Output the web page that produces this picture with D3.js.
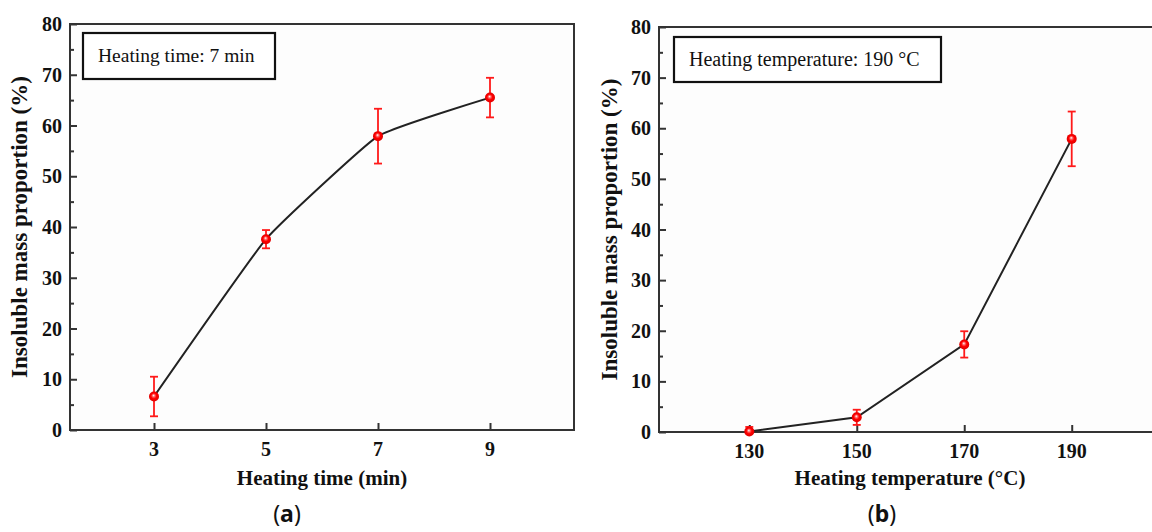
<!DOCTYPE html>
<html>
<head>
<meta charset="utf-8">
<script src="https://cdn.jsdelivr.net/npm/d3@7"></script>
<style>
  body { margin: 0; background: #fff; }
  svg { display: block; }
  text { font-family: "Liberation Serif", "Times New Roman", serif; fill: #111; }
</style>
</head>
<body>
<script>
// panel (a): heating time series
const heatingTime = [3, 5, 7, 9];
const timeMean = [6.6, 37.6, 57.9, 65.5];
const timeErr = [3.9, 1.8, 5.4, 3.9];

// panel (b): heating temperature series
const heatingTemp = [130, 150, 170, 190];
const tempMean = [0.1, 2.9, 17.3, 57.9];
const tempErr = [0.9, 1.5, 2.6, 5.4];

const yTicks = [0, 10, 20, 30, 40, 50, 60, 70, 80];
const yMinorTicks = [5, 15, 25, 35, 45, 55, 65, 75];

const width = 1152, height = 532;

const svg = d3.select("body").append("svg")
    .attr("width", width)
    .attr("height", height);

const defs = svg.append("defs");
const grad = defs.append("radialGradient")
    .attr("id", "ball")
    .attr("cx", "50%").attr("cy", "50%").attr("r", "50%")
    .attr("fx", "45%").attr("fy", "38%");
grad.append("stop").attr("offset", "0%").attr("stop-color", "#fff");
grad.append("stop").attr("offset", "28%").attr("stop-color", "#ff6060");
grad.append("stop").attr("offset", "55%").attr("stop-color", "#ff0000");
grad.append("stop").attr("offset", "100%").attr("stop-color", "#e00000");

function drawPanel(p) {
    const x = d3.scaleLinear().domain(p.xDomain).range(p.xRange);
    const y = d3.scaleLinear().domain([0, 80]).range(p.yRange);
    const g = svg.append("g");
    const [x0, x1] = p.xRange, [yb, yt] = p.yRange;

    // frame
    g.append("rect")
        .attr("x", x0).attr("y", yt)
        .attr("width", x1 - x0).attr("height", yb - yt)
        .attr("fill", "#fdfdfd")
        .attr("stroke", "#333")
        .attr("stroke-width", 2);

    // y axis, ticks inward
    const yAxis = d3.axisRight(y).tickValues(yTicks).tickSize(7).tickFormat("");
    g.append("g").attr("transform", "translate(" + x0 + ",0)").call(yAxis)
        .call(s => s.select(".domain").remove())
        .selectAll("line").attr("stroke", "#333").attr("stroke-width", 2);
    g.append("g").attr("transform", "translate(" + x0 + ",0)")
        .call(d3.axisRight(y).tickValues(yMinorTicks).tickSize(4).tickFormat(""))
        .call(s => s.select(".domain").remove())
        .selectAll("line").attr("stroke", "#333").attr("stroke-width", 2);
    g.selectAll(".ylab").data(yTicks).enter().append("text")
        .attr("x", x0 - 8)
        .attr("y", d => y(d) + 7)
        .attr("text-anchor", "end")
        .attr("font-weight", "bold")
        .attr("font-size", 20)
        .text(d => d);

    // x axis, ticks inward
    g.append("g").attr("transform", "translate(0," + yb + ")")
        .call(d3.axisTop(x).tickValues(p.xs).tickSize(7).tickFormat(""))
        .call(s => s.select(".domain").remove())
        .selectAll("line").attr("stroke", "#333").attr("stroke-width", 2);
    g.selectAll(".xlab").data(p.xs).enter().append("text")
        .attr("x", d => x(d))
        .attr("y", yb + 26)
        .attr("text-anchor", "middle")
        .attr("font-weight", "bold")
        .attr("font-size", 20)
        .text(d => d);

    // axis titles
    g.append("text")
        .attr("x", p.xTitleX).attr("y", 485)
        .attr("text-anchor", "middle")
        .attr("font-weight", "bold")
        .attr("font-size", 21)
        .text(p.xTitle);
    g.append("text")
        .attr("transform", "translate(" + p.yTitleX + "," + (yb + yt) / 2 + ") rotate(-90)")
        .attr("text-anchor", "middle")
        .attr("font-weight", "bold")
        .attr("font-size", 23)
        .text("Insoluble mass proportion (%)");

    // annotation box
    g.append("rect")
        .attr("x", p.box[0]).attr("y", p.box[1])
        .attr("width", p.box[2]).attr("height", p.box[3])
        .attr("fill", "#fff")
        .attr("stroke", "#111")
        .attr("stroke-width", 2.2);
    g.append("text")
        .attr("x", p.box[0] + 15).attr("y", p.box[1] + 29)
        .attr("font-size", p.noteSize)
        .text(p.note);

    // data
    const pts = p.xs.map((v, i) => ({x: v, y: p.mean[i], e: p.err[i]}));
    const line = d3.line().x(d => x(d.x)).y(d => y(d.y)).curve(p.curve);
    g.append("path")
        .attr("d", line(pts))
        .attr("fill", "none")
        .attr("stroke", "#222")
        .attr("stroke-width", 2);

    const eb = g.append("g").attr("stroke", "#ff1a1a").attr("stroke-width", 1.8);
    eb.selectAll(".v").data(pts).enter().append("line")
        .attr("x1", d => x(d.x)).attr("x2", d => x(d.x))
        .attr("y1", d => y(d.y + d.e)).attr("y2", d => y(Math.max(0, d.y - d.e)));
    eb.selectAll(".t").data(pts).enter().append("line")
        .attr("x1", d => x(d.x) - 4).attr("x2", d => x(d.x) + 4)
        .attr("y1", d => y(d.y + d.e)).attr("y2", d => y(d.y + d.e));
    eb.selectAll(".b").data(pts.filter(d => d.y - d.e > 0)).enter().append("line")
        .attr("x1", d => x(d.x) - 4).attr("x2", d => x(d.x) + 4)
        .attr("y1", d => y(d.y - d.e)).attr("y2", d => y(d.y - d.e));

    g.selectAll(".pt").data(pts).enter().append("circle")
        .attr("cx", d => x(d.x))
        .attr("cy", d => y(d.y))
        .attr("r", 5)
        .attr("fill", "url(#ball)");

    // caption
    const cap = svg.append("text")
        .attr("x", p.capX).attr("y", 522)
        .attr("text-anchor", "middle")
        .attr("font-size", 23)
        .style("font-family", "'Noto Sans', 'DejaVu Sans', sans-serif");
    cap.append("tspan").text("(");
    cap.append("tspan").attr("font-weight", "bold").text(p.cap);
    cap.append("tspan").text(")");
}

drawPanel({
    xs: heatingTime, mean: timeMean, err: timeErr,
    xDomain: [1.5, 10.5], xRange: [70, 574], yRange: [430, 24],
    xTitle: "Heating time (min)", xTitleX: 322, yTitleX: 27,
    box: [83, 33, 192, 46], note: "Heating time: 7 min", noteSize: 19.5,
    curve: d3.curveCardinal.tension(0.65), capX: 287, cap: "a"
});

drawPanel({
    xs: heatingTemp, mean: tempMean, err: tempErr,
    xDomain: [113.2, 206.8], xRange: [659, 1162], yRange: [432, 27],
    xTitle: "Heating temperature (\u00B0C)", xTitleX: 910, yTitleX: 617,
    box: [674, 37, 267, 45], note: "Heating temperature: 190 \u00B0C", noteSize: 20,
    curve: d3.curveLinear, capX: 882, cap: "b"
});
</script>
</body>
</html>
